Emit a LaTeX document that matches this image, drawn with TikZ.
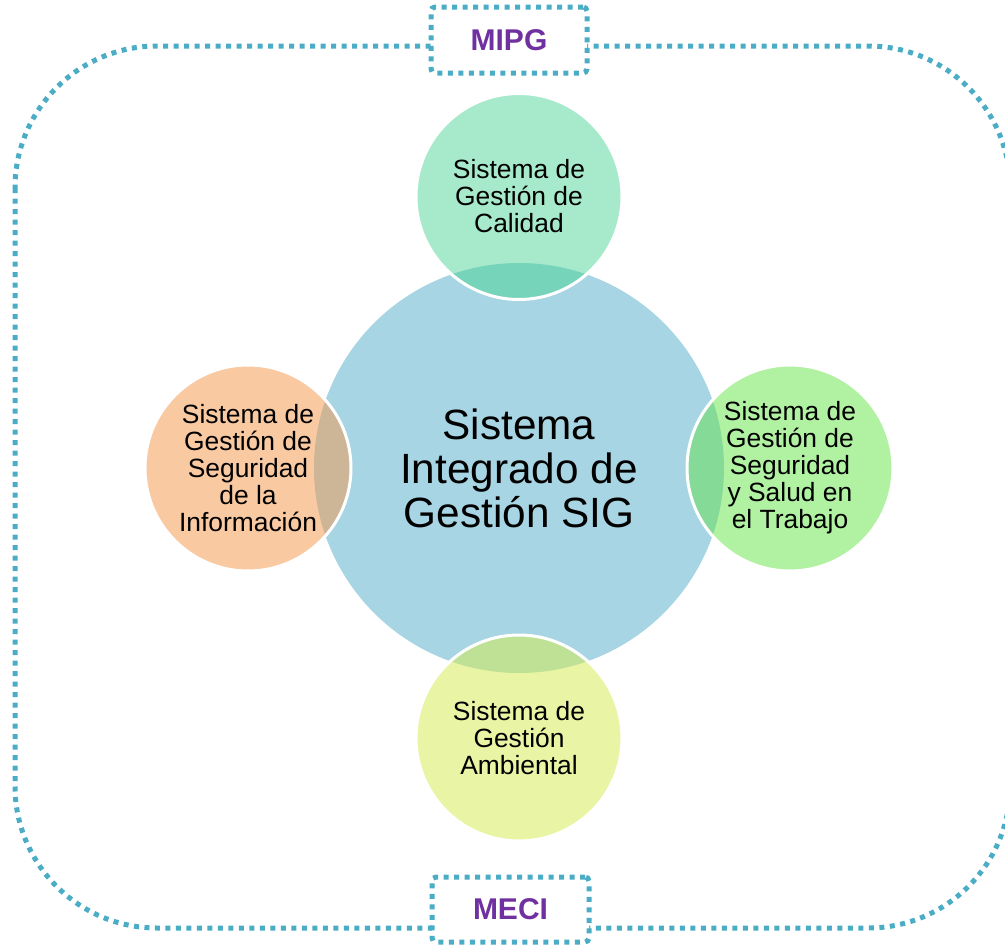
\documentclass[tikz,border=0pt]{standalone}
\usepackage{fontspec}
\setmainfont{Liberation Sans}
\definecolor{cblue}{HTML}{A7D5E3}
\definecolor{ctop}{HTML}{A6E9CB}
\definecolor{otop}{HTML}{76D4BB}
\definecolor{cleft}{HTML}{F9C9A1}
\definecolor{oleft}{HTML}{CDB597}
\definecolor{cright}{HTML}{B1F1A2}
\definecolor{oright}{HTML}{86DA97}
\definecolor{cbot}{HTML}{E9F5A4}
\definecolor{obot}{HTML}{BFE196}
\definecolor{dotc}{HTML}{4BACC6}
\definecolor{purp}{HTML}{7030A0}
\begin{document}
\begin{tikzpicture}[x=1pt,y=-1pt,
  dotline/.style={draw=dotc, line width=5pt, dash pattern=on 5pt off 5.5pt},
  tagbox/.style={dotline, fill=white, rounded corners=4pt, inner sep=0pt,
     text=purp, font=\fontsize{30}{36}\selectfont\bfseries},
  bigc/.style={circle, fill=cblue, minimum size=410pt, inner sep=0pt, align=center,
     font=\fontsize{42.3}{44}\selectfont},
  smallc/.style={circle, draw=white, line width=3pt, minimum size=206pt, inner sep=0pt,
     align=center, font=\fontsize{26.4}{27}\selectfont}]
\useasboundingbox (0,0) rectangle (1005,945);
% outer frame
\draw[dotline, rounded corners=142pt] (15,46) rectangle (1010,928);
\node[tagbox, minimum width=156pt, minimum height=66pt] (mipg) at (509,40) {MIPG};
\node[tagbox, minimum width=157pt, minimum height=65pt] (meci) at (510.5,909.5) {MECI};
% central circle
\node[bigc] (sig) at (519,468) {Sistema\\Integrado de\\Gestión SIG};
% top
\fill[ctop] (519,196.5) circle (103);
\begin{scope}\clip (519,196.5) circle (103); \fill[otop] (sig.center) circle (205);\end{scope}
\node[smallc] (calidad) at (519,196.5) {Sistema de\\Gestión de\\Calidad};
% left
\fill[cleft] (248,468) circle (103);
\begin{scope}\clip (248,468) circle (103); \fill[oleft] (sig.center) circle (205);\end{scope}
\node[smallc] (seginf) at (248,468) {Sistema de\\Gestión de\\Seguridad\\de la\\Información};
% right
\fill[cright] (790,468) circle (103);
\begin{scope}\clip (790,468) circle (103); \fill[oright] (sig.center) circle (205);\end{scope}
\node[smallc] (sst) at (790,468) {Sistema de\\Gestión de\\Seguridad\\y Salud en\\el Trabajo};
% bottom
\fill[cbot] (519,738) circle (103);
\begin{scope}\clip (519,738) circle (103); \fill[obot] (sig.center) circle (205);\end{scope}
\node[smallc] (amb) at (519,738) {Sistema de\\Gestión\\Ambiental};
\end{tikzpicture}
\end{document}
